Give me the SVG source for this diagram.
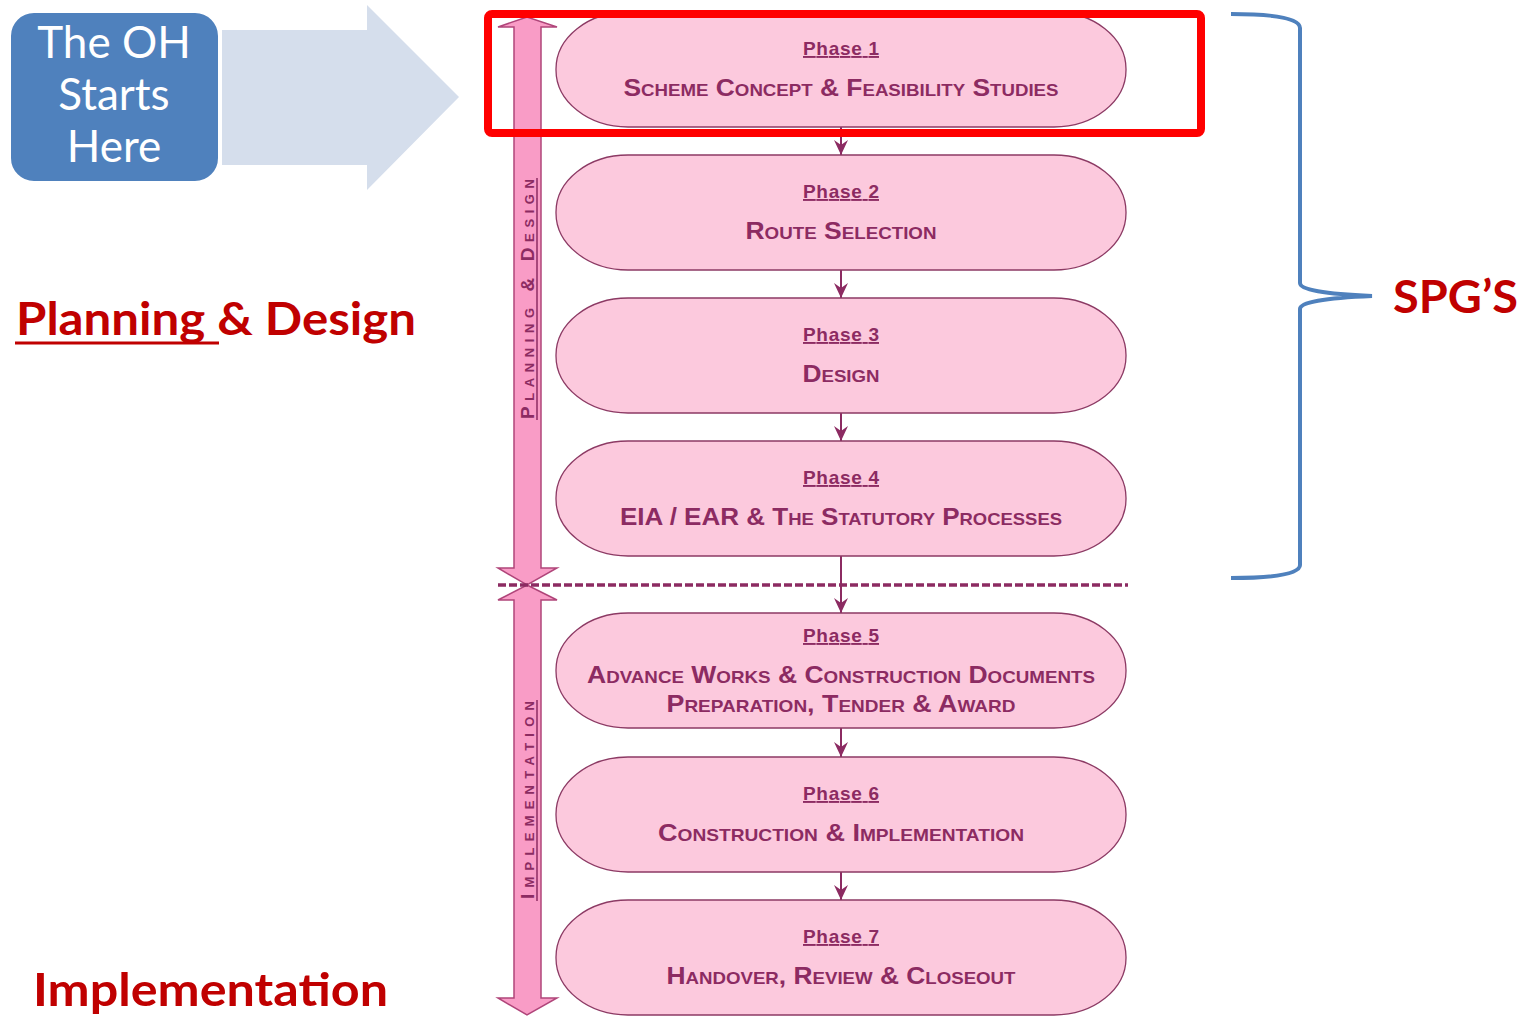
<svg xmlns="http://www.w3.org/2000/svg" width="1524" height="1017" viewBox="0 0 1524 1017">
<defs>
<style>
.cap{fill:#fcc9dd;stroke:#8c3a64;stroke-width:1.3}
.ph{font-family:"Liberation Sans",Arial,sans-serif;font-weight:bold;font-size:19px;fill:#8c2b62;text-anchor:middle;text-decoration:underline}
.sub{font-family:"Liberation Sans",Arial,sans-serif;font-weight:bold;font-size:24px;fill:#8c2b62;text-anchor:middle;font-variant:small-caps}
.vt{font-family:"Liberation Sans",Arial,sans-serif;font-weight:bold;font-size:19px;fill:#8c2b62;text-anchor:middle;font-variant:small-caps}
.con{stroke:#8c2b62;stroke-width:2;fill:none}
.red{font-family:Lato,"Liberation Sans",sans-serif;font-weight:bold;fill:#c00000}
.oh{font-family:Lato,"Open Sans",sans-serif;font-size:44px;fill:#ffffff;text-anchor:middle}
</style>
<marker id="ah" markerWidth="16" markerHeight="14" refX="15" refY="7" orient="auto" markerUnits="userSpaceOnUse" viewBox="0 0 16 14">
<path d="M0,0 L15,7 L0,14 L5,7 Z" fill="#8c2b62"/>
</marker>
</defs>

<g id="start-box">
<rect x="10" y="12" width="209" height="170" rx="24" fill="#4f81bd" stroke="#ffffff" stroke-width="2"/>
<text class="oh" x="114" y="58">The OH</text>
<text class="oh" x="114" y="110">Starts</text>
<text class="oh" x="114" y="162">Here</text>
</g>

<g id="start-arrow">
<path d="M222,30 L367,30 L367,5 L459,97 L367,190 L367,165 L222,165 Z" fill="#d5deec"/>
</g>

<g id="planning-label">
<text class="red" x="16" y="335" font-size="46" textLength="400" lengthAdjust="spacingAndGlyphs">Planning &amp; Design</text>
<line x1="15" y1="343" x2="219" y2="343" stroke="#c00000" stroke-width="3"/>
</g>

<g id="implementation-label">
<text class="red" x="33" y="1006" font-size="46" textLength="355" lengthAdjust="spacingAndGlyphs">Implementation</text>
</g>

<g id="spgs">
<path d="M1231,14 Q1300,14 1300,28 L1300,283 Q1300,293 1372,296 Q1300,299 1300,309 L1300,565 Q1300,578 1231,578" fill="none" stroke="#4f81bd" stroke-width="4"/>
<text class="red" x="1393" y="313" font-size="46" textLength="125" lengthAdjust="spacingAndGlyphs">SPG’S</text>
</g>

<g id="phase-bar">
<path d="M514,27 L498,27 L527,17 L557,27 L541,27 L541,568 L557,568 L527,585 L498,568 L514,568 Z" fill="#f99cc6" stroke="#b0457a" stroke-width="1.5"/>
<path d="M527,585 L557,600 L541,600 L541,998 L557,998 L527,1015 L498,998 L514,998 L514,600 L498,600 Z" fill="#f99cc6" stroke="#b0457a" stroke-width="1.5"/>
<text class="vt" transform="translate(534,299) rotate(-90)" textLength="240" lengthAdjust="spacing">Planning &amp; Design</text>
<line x1="537" y1="178" x2="537" y2="420" stroke="#8c2b62" stroke-width="1.5"/>
<text class="vt" transform="translate(534,800) rotate(-90)" textLength="198" lengthAdjust="spacing">Implementation</text>
<line x1="537" y1="700" x2="537" y2="901" stroke="#8c2b62" stroke-width="1.5"/>
</g>

<g id="connectors">
<line x1="498" y1="585" x2="1128" y2="585" stroke="#8c2b62" stroke-width="3.5" stroke-dasharray="8 3"/>
<line class="con" x1="841" y1="127" x2="841" y2="155" marker-end="url(#ah)"/>
<line class="con" x1="841" y1="270" x2="841" y2="298" marker-end="url(#ah)"/>
<line class="con" x1="841" y1="413" x2="841" y2="441" marker-end="url(#ah)"/>
<line class="con" x1="841" y1="556" x2="841" y2="613" marker-end="url(#ah)"/>
<line class="con" x1="841" y1="728" x2="841" y2="757" marker-end="url(#ah)"/>
<line class="con" x1="841" y1="872" x2="841" y2="900" marker-end="url(#ah)"/>
</g>

<g id="phase1">
<rect class="cap" x="556" y="12" width="570" height="115" rx="72" ry="57"/>
<text class="ph" x="841" y="55" textLength="76">Phase 1</text>
<text class="sub" x="841" y="96" textLength="435" lengthAdjust="spacingAndGlyphs">Scheme Concept &amp; Feasibility Studies</text>
</g>

<g id="phase2">
<rect class="cap" x="556" y="155" width="570" height="115" rx="72" ry="57"/>
<text class="ph" x="841" y="198" textLength="76">Phase 2</text>
<text class="sub" x="841" y="239" textLength="191" lengthAdjust="spacingAndGlyphs">Route Selection</text>
</g>

<g id="phase3">
<rect class="cap" x="556" y="298" width="570" height="115" rx="72" ry="57"/>
<text class="ph" x="841" y="341" textLength="76">Phase 3</text>
<text class="sub" x="841" y="382" textLength="77" lengthAdjust="spacingAndGlyphs">Design</text>
</g>

<g id="phase4">
<rect class="cap" x="556" y="441" width="570" height="115" rx="72" ry="57"/>
<text class="ph" x="841" y="484" textLength="76">Phase 4</text>
<text class="sub" x="841" y="525" textLength="442" lengthAdjust="spacingAndGlyphs">EIA / EAR &amp; The Statutory Processes</text>
</g>

<g id="phase5">
<rect class="cap" x="556" y="613" width="570" height="115" rx="72" ry="57"/>
<text class="ph" x="841" y="642" textLength="76">Phase 5</text>
<text class="sub" x="841" y="683" textLength="508" lengthAdjust="spacingAndGlyphs">Advance Works &amp; Construction Documents</text>
<text class="sub" x="841" y="712" textLength="349" lengthAdjust="spacingAndGlyphs">Preparation, Tender &amp; Award</text>
</g>

<g id="phase6">
<rect class="cap" x="556" y="757" width="570" height="115" rx="72" ry="57"/>
<text class="ph" x="841" y="800" textLength="76">Phase 6</text>
<text class="sub" x="841" y="841" textLength="366" lengthAdjust="spacingAndGlyphs">Construction &amp; Implementation</text>
</g>

<g id="phase7">
<rect class="cap" x="556" y="900" width="570" height="115" rx="72" ry="57"/>
<text class="ph" x="841" y="943" textLength="76">Phase 7</text>
<text class="sub" x="841" y="984" textLength="349" lengthAdjust="spacingAndGlyphs">Handover, Review &amp; Closeout</text>
</g>

<g id="highlight">
<rect x="488" y="14" width="713" height="119" rx="4" fill="none" stroke="#ff0000" stroke-width="8"/>
</g>
</svg>
